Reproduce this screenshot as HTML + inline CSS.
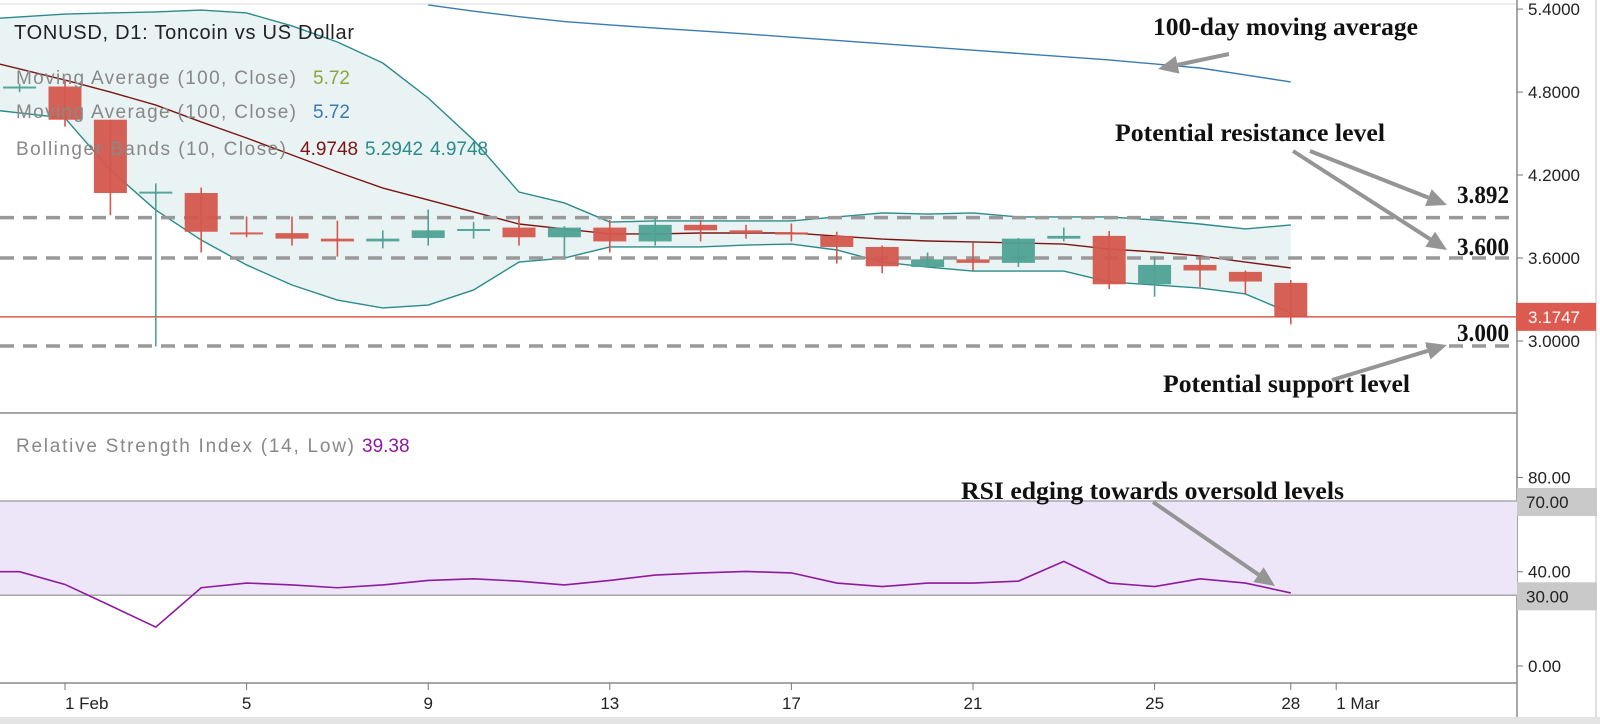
<!DOCTYPE html>
<html><head><meta charset="utf-8">
<style>
html,body{margin:0;padding:0;background:#fff;}
svg{display:block;}
</style></head>
<body>
<svg id="chart" width="1600" height="724" viewBox="0 0 1600 724" xmlns="http://www.w3.org/2000/svg">
  <rect x="0" y="0" width="1600" height="724" fill="#fff"/>
  <line x1="0" y1="4" x2="1517" y2="4" stroke="#e6e6e6" stroke-width="1.5"/>
  <rect x="0" y="717" width="1600" height="7" fill="#e4e4e4"/>
  <line x1="1596" y1="0" x2="1596" y2="717" stroke="#e0e0e0" stroke-width="2"/>
  <g id="main"></g>
  <g id="rsi"></g>
  <g id="axes"></g>
  <g id="ann"></g>
</svg>
<script>
const NS="http://www.w3.org/2000/svg";
// ---- data ----
const dates=["31 Jan","1 Feb","2 Feb","3 Feb","4 Feb","5 Feb","6 Feb","7 Feb","8 Feb","9 Feb","10 Feb","11 Feb","12 Feb","13 Feb","14 Feb","15 Feb","16 Feb","17 Feb","18 Feb","19 Feb","20 Feb","21 Feb","22 Feb","23 Feb","24 Feb","25 Feb","26 Feb","27 Feb","28 Feb"];
const opens =[4.83,4.84,4.60,4.07,4.07,3.785,3.78,3.74,3.72,3.745,3.805,3.82,3.75,3.82,3.72,3.84,3.80,3.785,3.76,3.68,3.535,3.59,3.565,3.74,3.76,3.41,3.55,3.50,3.42];
const highs =[4.86,4.89,4.60,4.14,4.11,3.90,3.90,3.87,3.80,3.95,3.86,3.90,3.83,3.875,3.89,3.875,3.84,3.85,3.79,3.69,3.64,3.71,3.745,3.82,3.795,3.61,3.615,3.51,3.44];
const lows  =[4.80,4.55,3.91,2.96,3.64,3.75,3.69,3.61,3.67,3.69,3.74,3.69,3.61,3.64,3.69,3.72,3.74,3.72,3.56,3.49,3.53,3.51,3.535,3.72,3.375,3.32,3.39,3.34,3.12];
const closes=[4.84,4.60,4.07,4.08,3.79,3.78,3.74,3.72,3.74,3.80,3.81,3.75,3.82,3.72,3.84,3.80,3.78,3.77,3.68,3.54,3.59,3.565,3.74,3.76,3.41,3.55,3.51,3.43,3.1747];
const bbUpper=[5.343,5.364,5.372,5.379,5.393,5.372,5.278,5.162,5.010,4.757,4.453,4.077,3.998,3.860,3.868,3.868,3.868,3.868,3.897,3.926,3.918,3.926,3.897,3.897,3.897,3.875,3.846,3.810,3.839];
const bbLower=[4.649,4.612,4.236,3.947,3.730,3.550,3.405,3.296,3.239,3.260,3.369,3.571,3.600,3.680,3.680,3.680,3.694,3.701,3.658,3.571,3.535,3.506,3.506,3.506,3.427,3.405,3.383,3.340,3.202];
const bbMid=[4.967,4.887,4.800,4.706,4.584,4.468,4.345,4.222,4.106,4.020,3.933,3.846,3.810,3.774,3.774,3.781,3.781,3.781,3.759,3.737,3.723,3.716,3.709,3.701,3.665,3.644,3.615,3.571,3.528];
const ma100Start=9;
const ma100=[5.43,5.385,5.345,5.31,5.285,5.263,5.242,5.220,5.197,5.173,5.150,5.126,5.103,5.079,5.056,5.032,5.003,4.974,4.924,4.873];
const rsiValues=[40,34.6,25.6,16.5,33.2,35.2,34.4,33.2,34.4,36.3,37,36,34.4,36.3,38.6,39.5,40.1,39.5,35.2,33.7,35.2,35.2,36,44.4,35.2,33.7,37,35.2,31];
const priceTicks=[5.4,4.8,4.2,3.6,3.0];
const rsiTicks=[80,40,0];
const rsiBoxes=[70,30];
const xTickLabels=["1 Feb","5","9","13","17","21","25","28","1 Mar"];
const xTickDays=[1,5,9,13,17,21,25,28,29];
const levels=[3.892,3.600,3.000];
const lastPrice=3.1747;
// ---- scales ----
const X=i=>19.6+45.4*i;
const Y=p=>341-(p-3)*138.3;
const RY=v=>666-v*2.357;
function el(tag,attrs,parent,text){const e=document.createElementNS(NS,tag);for(const k in attrs)e.setAttribute(k,attrs[k]);if(text!==undefined)e.textContent=text;parent.appendChild(e);return e;}
const main=document.getElementById('main'),rsi=document.getElementById('rsi'),axes=document.getElementById('axes'),ann=document.getElementById('ann');
let ptsU=bbUpper.map((v,i)=>[X(i),Y(v)]);let ptsL=bbLower.map((v,i)=>[X(i),Y(v)]);
const ext=(a,b)=>[0,a[1]-(b[1]-a[1])*(a[0]/(b[0]-a[0]))];
ptsU.unshift(ext(ptsU[0],ptsU[1]));ptsL.unshift(ext(ptsL[0],ptsL[1]));
let fill=el('polygon',{points:ptsU.concat(ptsL.slice().reverse()).map(p=>p.join(',')).join(' '),fill:'#e9f3f3'},main);

let u=el('polyline',{points:ptsU.map(p=>p.join(',')).join(' '),fill:'none',stroke:'#2b8a8a','stroke-width':1.4},main);

let l=el('polyline',{points:ptsL.map(p=>p.join(',')).join(' '),fill:'none',stroke:'#2b8a8a','stroke-width':1.4},main);

let ptsM=bbMid.map((v,i)=>[X(i),Y(v)]);ptsM.unshift(ext(ptsM[0],ptsM[1]));
let m=el('polyline',{points:ptsM.map(p=>p.join(',')).join(' '),fill:'none',stroke:'#7d1414','stroke-width':1.4},main);

let ma=el('polyline',{points:ma100.map((v,i)=>[X(i+ma100Start),Y(v)].join(',')).join(' '),fill:'none',stroke:'#3b7bb0','stroke-width':1.4},main);

levels.forEach((lv,i)=>{let yy=Y(lv)+(lv===3?5:0);let d=el('line',{x1:0,y1:yy,x2:1517,y2:yy,stroke:'#999','stroke-width':3.5,'stroke-dasharray':'14 9'},main);
});
let lp=el('line',{x1:0,y1:Y(lastPrice),x2:1517,y2:Y(lastPrice),stroke:'#d23a2e','stroke-width':1.2},main);

closes.forEach((c,i)=>{const o=opens[i],up=c>=o,col=up?'#4fa195':'#d4574d';const g=el('g',{},main);

el('line',{x1:X(i),y1:Y(highs[i]),x2:X(i),y2:Y(lows[i]),stroke:col,'stroke-width':1.6},g);
const t=Math.min(Y(o),Y(c)),h=Math.max(Math.abs(Y(o)-Y(c)),2);
el('rect',{x:X(i)-16.5,y:t,width:33,height:h,fill:col,'fill-opacity':0.95},g);});
el('line',{x1:0,y1:413,x2:1517,y2:413,stroke:'#8a8a8a','stroke-width':1.5},main);
el('line',{x1:0,y1:683,x2:1517,y2:683,stroke:'#8a8a8a','stroke-width':1.5},main);
el('line',{x1:1517,y1:0,x2:1517,y2:717,stroke:'#8a8a8a','stroke-width':1.5},main);
priceTicks.forEach(p=>{el('line',{x1:1517,y1:Y(p),x2:1523,y2:Y(p),stroke:'#777'},axes);
let t=el('text',{x:1528,y:Y(p)+6,'font-family':'Liberation Sans, sans-serif','font-size':17,fill:'#222'},axes,p.toFixed(4));
});
let lpb=el('rect',{x:1516,y:Y(lastPrice)-14,width:80,height:28,fill:'#dc5a4f'},axes);

el('text',{x:1528,y:Y(lastPrice)+6,'font-family':'Liberation Sans, sans-serif','font-size':17,fill:'#fff'},axes,lastPrice.toFixed(4));
let rb=el('rect',{x:0,y:RY(70),width:1517,height:RY(30)-RY(70),fill:'#ede6f8'},rsi);

rsiBoxes.forEach(v=>{el('line',{x1:0,y1:RY(v),x2:1517,y2:RY(v),stroke:'#a8a8a8','stroke-width':1.5},rsi);
let b=el('rect',{x:1517,y:RY(v)-13,width:80,height:28,fill:'#c9c9c9'},axes);

el('text',{x:1526,y:RY(v)+7,'font-family':'Liberation Sans, sans-serif','font-size':17,fill:'#222'},axes,v.toFixed(2));});
rsiTicks.forEach(v=>{el('line',{x1:1517,y1:RY(v),x2:1523,y2:RY(v),stroke:'#777'},axes);
let t=el('text',{x:1528,y:RY(v)+6,'font-family':'Liberation Sans, sans-serif','font-size':17,fill:'#222'},axes,v.toFixed(2));
});
let rpts=rsiValues.map((v,i)=>[X(i),RY(v)]);rpts.unshift([0,RY(rsiValues[0])]);
let rl=el('polyline',{points:rpts.map(p=>p.join(',')).join(' '),fill:'none',stroke:'#8e1a9e','stroke-width':1.6},rsi);

xTickLabels.forEach((s,i)=>{const x=X(xTickDays[i]);el('line',{x1:x,y1:683,x2:x,y2:690,stroke:'#777'},axes);
let t=el('text',{x:x,y:709,'font-family':'Liberation Sans, sans-serif','font-size':17,fill:'#222','text-anchor':i===0||i===8?'start':'middle'},axes,s);
});
const F='Liberation Sans, sans-serif';
let t1=el('text',{x:14,y:39,'font-family':F,'font-size':20,fill:'#222',textLength:340},ann,'TONUSD, D1: Toncoin vs US Dollar');

[[84,'#8aa83a'],[118,'#3b7bb0']].forEach(([y,c])=>{let g=el('text',{x:16,y:y,'font-family':F,'font-size':19,fill:'#888'},ann);

el('tspan',{textLength:280},g,'Moving Average (100, Close)');el('tspan',{x:313,fill:c},g,'5.72');});
let bl=el('text',{x:16,y:155,'font-family':F,'font-size':19,fill:'#888'},ann);

el('tspan',{textLength:270},bl,'Bollinger Bands (10, Close)');el('tspan',{x:300,fill:'#7d1414'},bl,'4.9748');el('tspan',{x:365,fill:'#2b8a8a'},bl,'5.2942');el('tspan',{x:430,fill:'#2b8a8a'},bl,'4.9748');
let rlg=el('text',{x:16,y:452,'font-family':F,'font-size':19,fill:'#888'},ann);

el('tspan',{textLength:338},rlg,'Relative Strength Index (14, Low)');el('tspan',{x:362,fill:'#8e1a9e'},rlg,'39.38');
const S='Liberation Serif, serif';
function label(x,y,s,w,name){let t=el('text',{x:x,y:y,'font-family':S,'font-size':25,'font-weight':'bold',fill:'#111',textLength:w,lengthAdjust:'spacingAndGlyphs'},ann,s);
}
label(1153,35,'100-day moving average',265,'ma-annotation');
label(1115,141,'Potential resistance level',270,'resistance-annotation');
label(1163,392,'Potential support level',247,'support-annotation');
label(1457,203,'3.892',52,'level-label-3892');
label(1457,255,'3.600',52,'level-label-3600');
label(1457,341,'3.000',52,'level-label-3000');
label(961,499,'RSI edging towards oversold levels',383,'rsi-annotation');
function arrow(x1,y1,x2,y2,name){const g=el('g',{},ann);
const a=Math.atan2(y2-y1,x2-x1),L=20,W=9;const bx=x2-L*Math.cos(a),by=y2-L*Math.sin(a);
el('line',{x1:x1,y1:y1,x2:bx,y2:by,stroke:'#959595','stroke-width':4},g);
el('polygon',{points:`${x2},${y2} ${bx+W*Math.sin(a)},${by-W*Math.cos(a)} ${bx-W*Math.sin(a)},${by+W*Math.cos(a)}`,fill:'#959595'},g);}
arrow(1229,54,1158,69,'ma-arrow');
arrow(1310,151,1447,205,'resistance-arrow-1');
arrow(1293,151,1447,250,'resistance-arrow-2');
arrow(1332,380,1447,345,'support-arrow');
arrow(1153,502,1275,586,'rsi-arrow');
</script>
</body></html>
